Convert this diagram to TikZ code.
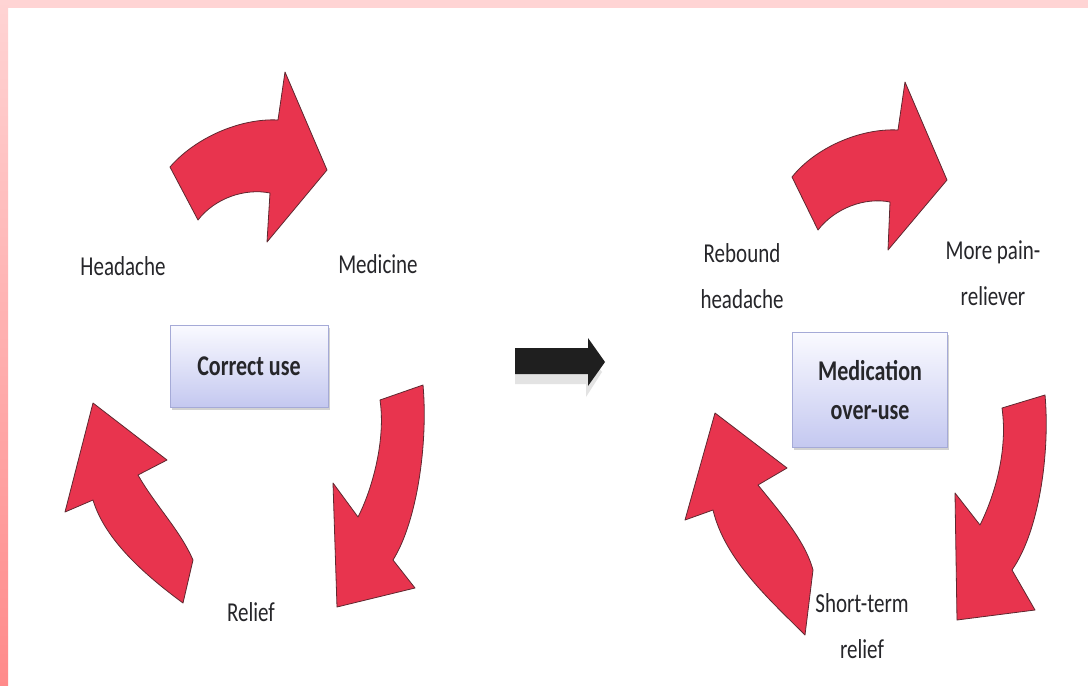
\documentclass[tikz,border=0pt]{standalone}
\usepackage{fontspec}
\setmainfont{Carlito}
\usetikzlibrary{shadows}
\definecolor{arrowred}{RGB}{232,52,78}
\definecolor{arrowedge}{RGB}{95,40,48}
\definecolor{txt}{RGB}{38,38,42}
\definecolor{boxtop}{RGB}{250,250,255}
\definecolor{boxbot}{RGB}{196,200,240}
\definecolor{boxedge}{RGB}{165,170,215}
\definecolor{pinktop}{RGB}{255,212,212}
\definecolor{pinkbot}{RGB}{255,138,138}
\newcommand{\tall}[1]{\scalebox{1}[1.3]{#1}}
\tikzset{
  redarrow/.style={fill=arrowred, draw=arrowedge, line width=0.8pt, line join=round},
  lbl/.style={text=txt, align=center, font=\fontsize{21}{46}\selectfont},
  centrebox/.style={draw=boxedge, line width=0.8pt, top color=boxtop, bottom color=boxbot,
    text=txt, align=center, font=\bfseries\fontsize{22}{39}\selectfont,
    drop shadow={shadow xshift=1.5pt, shadow yshift=-2.5pt, opacity=0.35}},
}
\begin{document}
\begin{tikzpicture}[x=1pt,y=-1pt]
\useasboundingbox (0,0) rectangle (1088,686);
\fill[white] (0,0) rectangle (1088,686);
% pink frame
\fill[pinktop] (0,0) rectangle (1088,8);
\shade[top color=pinktop, bottom color=pinkbot] (0,0) rectangle (8,686);

% ---------- left cycle ----------
\path[redarrow] (170,167) .. controls (195,138) and (240,118) .. (278,120) -- (285,72) -- (327,170) -- (267,242) -- (270,193) .. controls (245,188) and (215,198) .. (198,220) -- cycle;
\path[redarrow] (380,400) -- (423,385) .. controls (428,440) and (418,520) .. (393,560) -- (415,588) -- (337,607) -- (333,483) -- (358,517) .. controls (372,490) and (386,440) .. (380,400) -- cycle;
\path[redarrow] (93,403) -- (167,460) -- (138,475) .. controls (155,505) and (180,530) .. (193,560) -- (183,603) .. controls (145,575) and (105,540) .. (93,500) -- (65,512) -- cycle;

\node[lbl] (headache) at (123,266) {\tall{Headache}};
\node[lbl] (medicine) at (378,264) {\tall{Medicine}};
\node[lbl] (relief) at (251,612) {\tall{Relief}};
\node[centrebox, minimum width=158pt, minimum height=82pt] (correct) at (249,366) {\tall{Correct use}};

% ---------- middle arrow ----------
\fill[gray!22] (515,361) -- (586,361) -- (586,351) -- (602,372) -- (586,397) -- (586,384) -- (515,384) -- cycle;
\fill[black!88] (515,348) -- (588,348) -- (588,338) -- (605,362) -- (588,386) -- (588,374) -- (515,374) -- cycle;

% ---------- right cycle ----------
\path[redarrow] (792,177) .. controls (815,148) and (860,128) .. (898,130) -- (905,82) -- (947,180) -- (888,250) -- (890,202) .. controls (865,197) and (835,208) .. (818,230) -- cycle;
\path[redarrow] (1002,408) -- (1045,395) .. controls (1050,450) and (1040,530) .. (1012,570) -- (1035,610) -- (957,620) -- (955,493) -- (980,525) .. controls (995,495) and (1008,450) .. (1002,408) -- cycle;
\path[redarrow] (715,413) -- (787,468) -- (758,485) .. controls (778,510) and (805,540) .. (813,570) -- (805,635) .. controls (770,600) and (725,560) .. (713,510) -- (685,520) -- cycle;

\node[lbl] (rebound) at (742,276) {\tall{Rebound}\\\tall{headache}};
\node[lbl] (morepain) at (993,273) {\tall{More pain-}\\\tall{reliever}};
\node[lbl] (shortterm) at (862,626) {\tall{Short-term}\\\tall{relief}};
\node[centrebox, minimum width=155pt, minimum height=115pt] (overuse) at (870,390) {\tall{Medication}\\\tall{over-use}};
\end{tikzpicture}
\end{document}
